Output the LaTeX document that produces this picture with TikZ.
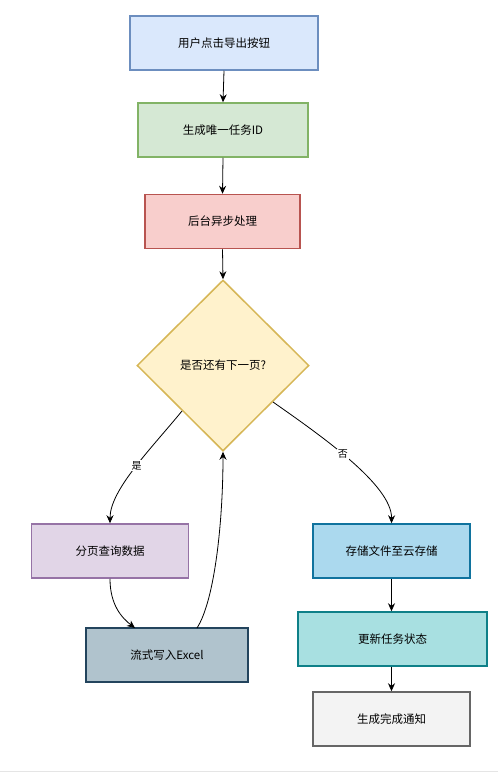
\documentclass[tikz,border=0pt]{standalone}
\usepackage{fontspec}
\setmainfont{Noto Sans CJK SC}
\usetikzlibrary{shapes.geometric,arrows.meta}
\definecolor{c1f}{HTML}{DAE8FC}\definecolor{c1d}{HTML}{6C8EBF}
\definecolor{c2f}{HTML}{D5E8D4}\definecolor{c2d}{HTML}{82B366}
\definecolor{c3f}{HTML}{F8CECC}\definecolor{c3d}{HTML}{B85450}
\definecolor{c4f}{HTML}{FFF2CC}\definecolor{c4d}{HTML}{D6B656}
\definecolor{c5f}{HTML}{E1D5E7}\definecolor{c5d}{HTML}{9673A6}
\definecolor{c6f}{HTML}{B0C3CD}\definecolor{c6d}{HTML}{23445D}
\definecolor{c7f}{HTML}{ABD9EE}\definecolor{c7d}{HTML}{10739E}
\definecolor{c8f}{HTML}{A8E0E1}\definecolor{c8d}{HTML}{0E8088}
\definecolor{c9f}{HTML}{F3F3F3}\definecolor{c9d}{HTML}{666666}
\tikzset{
  box/.style={draw, line width=1.5pt, minimum height=54pt, inner sep=0pt, font=\fontsize{11.5}{13}\selectfont},
  flow/.style={line width=0.8pt, -{Stealth[length=8pt,width=7pt]}},
  lbl/.style={fill=white, inner sep=1pt, font=\fontsize{10}{12}\selectfont}
}
\begin{document}
\begin{tikzpicture}[x=1pt,y=-1pt]
\useasboundingbox (0,0) rectangle (498,772);
\draw[line width=1pt, color=black!10] (0,771) -- (498,771);
\node[box, fill=c1f, draw=c1d, minimum width=188pt] (n1) at (224,43) {用户点击导出按钮};
\node[box, fill=c2f, draw=c2d, minimum width=170pt] (n2) at (223,130) {生成唯一任务ID};
\node[box, fill=c3f, draw=c3d, minimum width=155pt] (n3) at (222.5,221.5) {后台异步处理};
\node[diamond, draw=c4d, fill=c4f, line width=1.5pt, minimum width=172pt, minimum height=171pt, inner sep=0pt, font=\fontsize{11.5}{13}\selectfont] (d) at (223,365.5) {是否还有下一页?};
\node[box, fill=c5f, draw=c5d, minimum width=157pt] (p) at (110,551) {分页查询数据};
\node[box, fill=c6f, draw=c6d, minimum width=162pt] (e) at (167,655) {流式写入Excel};
\node[box, fill=c7f, draw=c7d, minimum width=157pt] (s) at (391.5,551) {存储文件至云存储};
\node[box, fill=c8f, draw=c8d, minimum width=189pt] (u) at (392.5,639) {更新任务状态};
\node[box, fill=c9f, draw=c9d, minimum width=157pt] (f) at (391.5,719) {生成完成通知};
\draw[flow] (n1.south) -- (n2.north);
\draw[flow] (n2.south) -- (n3.north);
\draw[flow] (n3.south) -- (d.north);
\coordinate (yesA) at (182,411);
\coordinate (noA) at (273,402);
\coordinate (pe) at (135,628);
\coordinate (eo) at (197,628);
\draw[flow] (yesA) .. controls (150,450) and (110,490) .. (p.north)
  node[lbl, pos=0.47] {是};
\draw[flow] (noA) .. controls (320,435) and (392,485) .. (s.north)
  node[lbl, pos=0.45] {否};
\draw[flow] (p.south) .. controls (110,605) and (122,618) .. (pe);
\draw[flow] (eo) .. controls (215,600) and (223,520) .. (d.south);
\draw[flow] (s.south) -- (u.north -| s.south);
\draw[flow] (u.south -| f.north) -- (f.north);
\end{tikzpicture}
\end{document}
